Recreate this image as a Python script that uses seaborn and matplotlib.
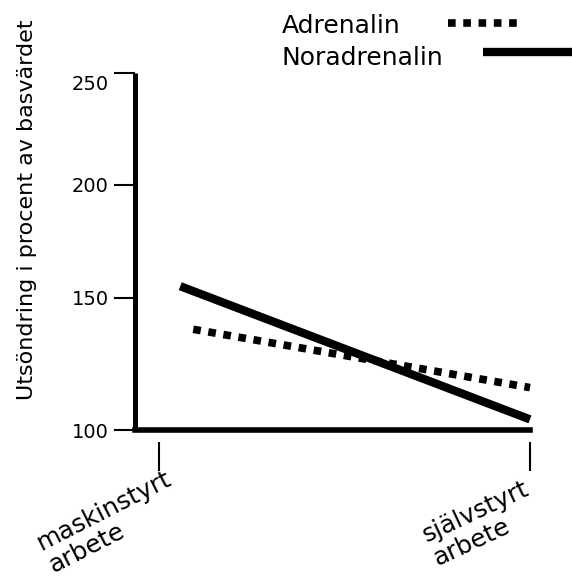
import numpy as np
import pandas as pd
import matplotlib
matplotlib.use("Agg")
import matplotlib.pyplot as plt
import seaborn as sns
from matplotlib.lines import Line2D
from matplotlib.transforms import ScaledTranslation

# ---------------- data ----------------
conditions = ["maskinstyrt\narbete", "självstyrt\narbete"]
condition_pos = [0.0, 1.0]
series_names = ["Adrenalin", "Noradrenalin"]
adrenalin_x = [0.092, 1.0]
adrenalin = [138, 116]
noradrenalin_x = [0.057, 1.0]
noradrenalin = [155, 104]
ytick_values = [100, 150, 200, 250]
ytick_labels = ["100", "150", "200", "250"]
ylabel = "Utsöndring i procent av basvärdet"

df_a = pd.DataFrame({"x": adrenalin_x, "value": adrenalin})
df_n = pd.DataFrame({"x": noradrenalin_x, "value": noradrenalin})

# ---------------- style ----------------
sns.set_theme(style="white")
plt.rcParams["font.family"] = ["DejaVu Sans"]

W, H = 572, 578
fig = plt.figure(figsize=(W / 100, H / 100), dpi=100)
ax = fig.add_axes([135 / W, 1 - 430 / H, (530 - 135) / W, (430 - 73) / H])

# hand-drawn, piecewise-linear value axis (as in the original)
ref_vals = np.array([0.0, 100.0, 150.0, 200.0, 250.0, 400.0])
ref_px = np.array([-265.0, 0.0, 132.5, 245.5, 357.0, 357.0 + 150 * 2.24])


def fwd(v):
    return np.interp(np.asarray(v, float), ref_vals, ref_px)


def inv(p):
    return np.interp(np.asarray(p, float), ref_px, ref_vals)


ax.set_yscale("function", functions=(fwd, inv))

sns.lineplot(data=df_n, x="x", y="value", ax=ax, color="black", linewidth=6,
             solid_capstyle="butt", clip_on=False, sort=False)
sns.lineplot(data=df_a, x="x", y="value", ax=ax, color="black", linewidth=5.5,
             linestyle=(0, (1, 1)), dash_capstyle="butt", clip_on=False, sort=False)

ax.set_xlim(-0.065, 1.0)
ax.set_ylim(100, 250)
ax.set_xlabel("")

for s in ["top", "right"]:
    ax.spines[s].set_visible(False)
ax.spines["left"].set_linewidth(3.6)
ax.spines["bottom"].set_linewidth(4)
ax.spines["left"].set_color("black")
ax.spines["bottom"].set_color("black")
ax.spines["left"].set_capstyle("butt")

ax.set_yticks(ytick_values, ytick_labels)
ax.yaxis.set_minor_locator(matplotlib.ticker.NullLocator())
ax.tick_params(axis="y", which="major", direction="out", length=15, width=1.5,
               pad=4, labelsize=14, color="black", labelcolor="black", left=True)
ax.set_xticks([])
ax.grid(False)

# shift "250" label slightly down as in the original
lbls = ax.get_yticklabels()
lbls[-1].set_transform(lbls[-1].get_transform() + ScaledTranslation(0, -9 / 100, fig.dpi_scale_trans))

# y label
ax.set_ylabel(ylabel, fontsize=16, color="black")
ax.yaxis.set_label_coords(37 / W, 1 - 210 / H, transform=fig.transFigure)

# category ticks, detached below the axis line
sec = ax.secondary_xaxis(-0.034)
sec.spines["bottom"].set_visible(False)
sec.set_xticks(condition_pos, conditions)
sec.tick_params(axis="x", direction="out", length=21, width=1.5, pad=0,
                labelsize=18, color="black", labelcolor="black")
offsets = [(6, 5), (-7, -5)]
rotations = [27, 25]
for lab, (dx, dy), rot in zip(sec.get_xticklabels(), offsets, rotations):
    lab.set_rotation(rot)
    lab.set_ha("right")
    lab.set_va("top")
    lab.set_rotation_mode("anchor")
    lab.set_multialignment("left")
    lab.set_linespacing(1.1)
    lab.set_transform(lab.get_transform() + ScaledTranslation(dx / 100, dy / 100, fig.dpi_scale_trans))

# legend (hand placed like the original)
fig.text(282 / W, 1 - 33 / H, series_names[0], fontsize=18, ha="left", va="baseline", color="black")
fig.text(282 / W, 1 - 65 / H, series_names[1], fontsize=18, ha="left", va="baseline", color="black")
fig.add_artist(Line2D([448 / W, 518 / W], [1 - 23 / H] * 2, transform=fig.transFigure,
                      color="black", linewidth=5.5, linestyle=(0, (1, 1)), dash_capstyle="butt"))
fig.add_artist(Line2D([483 / W, 1.0], [1 - 52 / H] * 2, transform=fig.transFigure,
                      color="black", linewidth=6, solid_capstyle="butt"))

fig.savefig("out.png", dpi=100)
